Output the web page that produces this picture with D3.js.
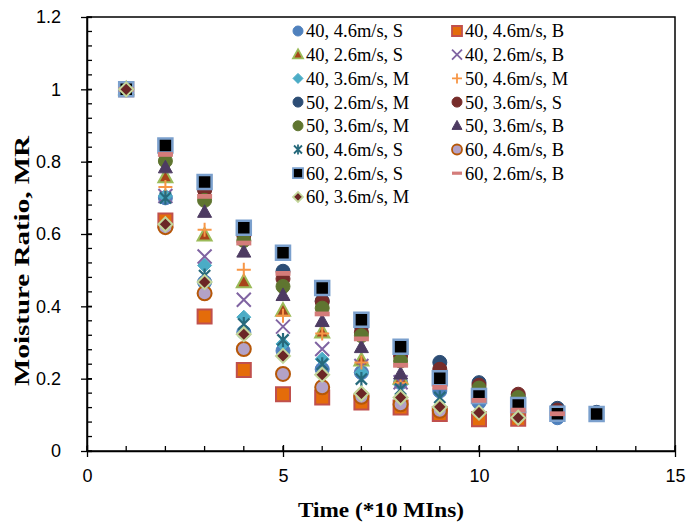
<!DOCTYPE html>
<html><head><meta charset="utf-8">
<script src="https://cdn.jsdelivr.net/npm/d3@7"></script>
<style>body{margin:0;background:#fff}svg{display:block}</style>
</head><body>
<div id="chart"></div>
<script>
// ---- data ----
const seriesNames = ["40, 4.6m/s, S","40, 4.6m/s, B","40, 2.6m/s, S","40, 2.6m/s, B","40, 3.6m/s, M","50, 4.6m/s, M","50, 2.6m/s, M","50, 3.6m/s, S","50, 3.6m/s, M","50, 3.6m/s, B","60, 4.6m/s, S","60, 4.6m/s, B","60, 2.6m/s, S","60, 2.6m/s, B","60, 3.6m/s, M"];
const s40_46_S = [1,0.70,0.467,0.328,0.277,0.226,0.217,0.189,0.166,0.134,0.113,0.092];
const s40_46_B = [1,0.637,0.372,0.224,0.157,0.148,0.134,0.120,0.102,0.088,0.089];
const s40_26_S = [1,0.757,0.596,0.467,0.388,0.328,0.250,0.200];
const s40_26_B = [1,0.705,0.538,0.418,0.344,0.282,0.235,0.190];
const s40_36_M = [1,0.705,0.513,0.370,0.296,0.254,0.217];
const s50_46_M = [1,0.730,0.612,0.501,0.374,0.325,0.245,0.189];
const s50_26_M = [1,0.830,0.725,0.605,0.497,0.415,0.345,0.275,0.245,0.189,0.150,0.118,0.107];
const s50_36_S = [1,0.825,0.721,0.596,0.476,0.413,0.328,0.263,0.226,0.182,0.157,0.113];
const s50_36_M = [1,0.802,0.693,0.582,0.455,0.395,0.319,0.249,0.200,0.174,0.148];
const s50_36_B = [1,0.783,0.660,0.550,0.430,0.358,0.286,0.213];
const s60_46_S = [1,0.700,0.485,0.351,0.307,0.240,0.199,0.171,0.148];
const s60_46_B = [1,0.619,0.436,0.282,0.213,0.176,0.150,0.129,0.111];
const s60_26_S = [1,0.845,0.744,0.617,0.548,0.451,0.363,0.288,0.201,0.152,0.127,0.103,0.102];
const s60_26_B = [1,0.820,0.704,0.575,0.491,0.379,0.310,0.237,0.176,0.140,0.113,0.103];
const s60_36_M = [1,0.627,0.467,0.323,0.263,0.211,0.159,0.148,0.122,0.106,0.092];
const seriesValues = [s40_46_S,s40_46_B,s40_26_S,s40_26_B,s40_36_M,s50_46_M,s50_26_M,s50_36_S,s50_36_M,s50_36_B,s60_46_S,s60_46_B,s60_26_S,s60_26_B,s60_36_M];
const xTicks = [0,5,10,15];
const yTicks = [0,0.2,0.4,0.6,0.8,1,1.2];

// ---- styles ----
const styles = [
  {shape:"circle", fill:"#4F81BD", stroke:"#4F81BD", sw:1},
  {shape:"square", fill:"#E46C0A", stroke:"#C0504D", sw:2},
  {shape:"triangle", fill:"#A8441A", stroke:"#9BBB59", sw:2},
  {shape:"x", fill:"none", stroke:"#8064A2", sw:2},
  {shape:"diamond", fill:"#4BACC6", stroke:"#4BACC6", sw:1},
  {shape:"plus", fill:"none", stroke:"#F79646", sw:2},
  {shape:"circle", fill:"#2C4D75", stroke:"#2C4D75", sw:1},
  {shape:"circle", fill:"#772C2A", stroke:"#772C2A", sw:1},
  {shape:"circle", fill:"#5F7530", stroke:"#5F7530", sw:1},
  {shape:"triangle", fill:"#4D3B62", stroke:"#4D3B62", sw:1},
  {shape:"star", fill:"none", stroke:"#276A7C", sw:2.2},
  {shape:"circle", fill:"#B3A2C7", stroke:"#B65708", sw:2},
  {shape:"square", fill:"#000000", stroke:"#7BA0CD", sw:2.5},
  {shape:"dash", fill:"#D47C7A", stroke:"none", sw:0},
  {shape:"diamond", fill:"#6B2626", stroke:"#C3D69B", sw:2}
];

function shapePath(shape, s){
  const h = s/2;
  switch(shape){
    case "circle": { const p = d3.path(); p.arc(0,0,h,0,2*Math.PI); return p.toString(); }
    case "square": return `M${-h},${-h}H${h}V${h}H${-h}Z`;
    case "triangle": { const th = s*0.9; return `M0,${-th*0.6}L${h},${th*0.4}L${-h},${th*0.4}Z`; }
    case "diamond": return `M0,${-h}L${h},0L0,${h}L${-h},0Z`;
    case "x": return `M${-h},${-h}L${h},${h}M${-h},${h}L${h},${-h}`;
    case "plus": return `M${-h},0H${h}M0,${-h}V${h}`;
    case "star": return `M${-h*0.8},${-h*0.8}L${h*0.8},${h*0.8}M${-h*0.8},${h*0.8}L${h*0.8},${-h*0.8}M0,${-h}V${h}`;
    case "dash": { const t = s*0.16; return `M${-h},${-t}H${h}V${t}H${-h}Z`; }
  }
}

const W = 689, H = 525;
const margin = {left:87, right:14, top:17, bottom:74};
const svg = d3.select("#chart").append("svg").attr("width",W).attr("height",H);

const x = d3.scaleLinear().domain([0,15]).range([margin.left, W-margin.right]);
const y = d3.scaleLinear().domain([0,1.2]).range([H-margin.bottom, margin.top]);

// frame
svg.append("rect").attr("x",x(0)).attr("y",y(1.2)).attr("width",x(15)-x(0)).attr("height",y(0)-y(1.2))
  .attr("fill","none").attr("stroke","#000").attr("stroke-width",1.5);

const tickFont = "'Liberation Sans', Arial, sans-serif";
// minor ticks
const gMinor = svg.append("g").attr("stroke","#000").attr("stroke-width",1.3);
d3.range(0,1.2001,0.04).forEach(v=>{
  gMinor.append("line").attr("x1",x(0)).attr("x2",x(0)+5).attr("y1",y(v)).attr("y2",y(v));
});
d3.range(0,15.001,1).forEach(v=>{
  gMinor.append("line").attr("x1",x(v)).attr("x2",x(v)).attr("y1",y(0)).attr("y2",y(0)-5);
});

// axes
const yAxis = d3.axisLeft(y).tickValues(yTicks).tickFormat(d=>d3.format("")(+d.toFixed(1))).tickSizeInner(6).tickSizeOuter(0).tickPadding(20);
const gy = svg.append("g").attr("transform",`translate(${x(0)},0)`).call(yAxis);
gy.selectAll(".tick line").attr("x2",-6).attr("x1",5);
const xAxis = d3.axisBottom(x).tickValues(xTicks).tickSizeInner(6).tickSizeOuter(0).tickPadding(12);
const gx = svg.append("g").attr("transform",`translate(0,${y(0)})`).call(xAxis);
gx.selectAll(".tick line").attr("y1",-6).attr("y2",6);
[gx,gy].forEach(g=>{
  g.select(".domain").attr("stroke","#000").attr("stroke-width",1.5);
  g.selectAll(".tick line").attr("stroke","#000").attr("stroke-width",1.3);
  g.selectAll(".tick text").attr("font-family",tickFont).attr("font-size",18).attr("fill","#000");
});

// axis titles
const titleFont = "'Liberation Serif', 'DejaVu Serif', serif";
svg.append("text").attr("x",381).attr("y",517).attr("text-anchor","middle")
  .attr("font-family",titleFont).attr("font-weight","bold").attr("font-size",22)
  .attr("textLength",166).attr("lengthAdjust","spacingAndGlyphs").text("Time (*10 MIns)");
svg.append("text").attr("transform",`translate(29,261) rotate(-90)`).attr("text-anchor","middle")
  .attr("font-family",titleFont).attr("font-weight","bold").attr("font-size",22)
  .attr("textLength",250).attr("lengthAdjust","spacingAndGlyphs").text("Moisture Ratio, MR");

// points
seriesValues.forEach((vals,i)=>{
  const st = styles[i];
  const g = svg.append("g");
  g.selectAll("path").data(vals).enter().append("path")
    .attr("d", shapePath(st.shape, st.shape==="dash"?15:14))
    .attr("transform",(d,j)=>`translate(${x(j+1)},${y(d)})`)
    .attr("fill",st.fill).attr("stroke",st.stroke).attr("stroke-width",st.sw);
});

// legend
const lg = svg.append("g");
seriesNames.forEach((name,i)=>{
  const col = i%2, row = Math.floor(i/2);
  const lx = col===0 ? 298 : 457;
  const ly = 31 + row*23.7;
  const st = styles[i];
  lg.append("path").attr("d",shapePath(st.shape, 10)).attr("transform",`translate(${lx},${ly})`)
    .attr("fill",st.fill).attr("stroke",st.stroke).attr("stroke-width",Math.min(st.sw,1.8));
  lg.append("text").attr("x",lx+8).attr("y",ly).attr("dy","0.35em")
    .attr("font-family",titleFont).attr("font-size",18.5).attr("fill","#000").text(name);
});
</script>
</body></html>
